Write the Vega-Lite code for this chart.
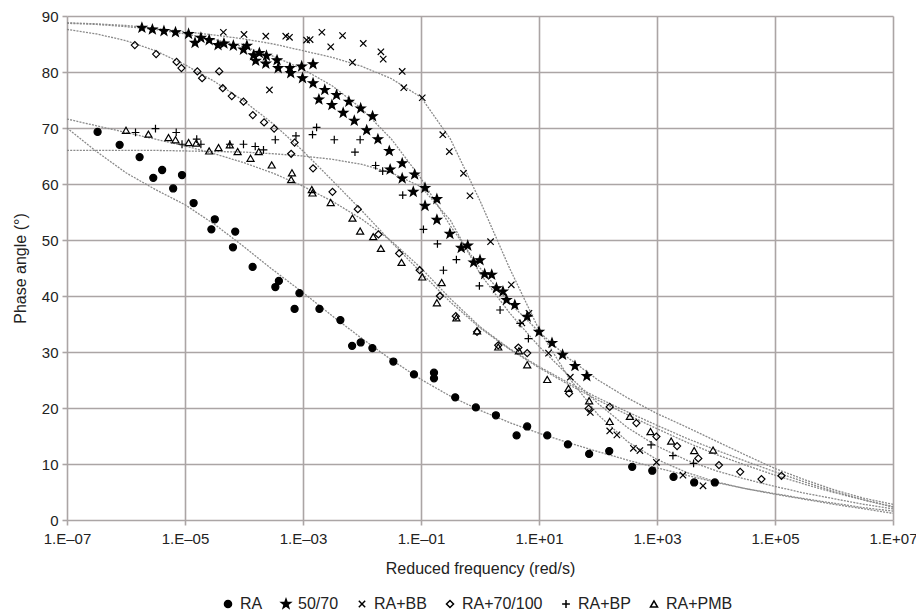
{
  "$schema": "https://vega.github.io/schema/vega-lite/v6.json",
  "width": 826,
  "height": 504,
  "autosize": {"type": "none"},
  "padding": {"left": 67, "top": 16, "right": 23, "bottom": 95},
  "background": "white",
  "config": {
    "view": {"stroke": null},
    "font": "Liberation Sans",
    "axis": {
      "grid": true,
      "gridColor": "#aba5a5",
      "gridWidth": 1.6,
      "domain": false,
      "tickColor": "#aba5a5",
      "tickSize": 5,
      "tickWidth": 1.6,
      "labelFontSize": 15,
      "labelColor": "#222222",
      "titleFontSize": 16,
      "titleFontWeight": "normal",
      "titleColor": "#222222",
      "labelFlush": false,
      "labelOverlap": false
    },
    "legend": {
      "title": null,
      "orient": "none",
      "legendX": 153,
      "legendY": 580,
      "direction": "horizontal",
      "labelFontSize": 16,
      "labelColor": "#222222",
      "labelFont": "Liberation Sans",
      "symbolSize": 50,
      "columnPadding": 15,
      "labelOffset": 4
    }
  },
  "datasets": {
    "points": [
      {"series": "RA", "freq": 3.3e-7, "phase": 69.3},
      {"series": "RA", "freq": 7.8e-7, "phase": 67.0},
      {"series": "RA", "freq": 1.7e-6, "phase": 64.8},
      {"series": "RA", "freq": 2.9e-6, "phase": 61.1},
      {"series": "RA", "freq": 4.1e-6, "phase": 62.5},
      {"series": "RA", "freq": 6.3e-6, "phase": 59.2},
      {"series": "RA", "freq": 8.9e-6, "phase": 61.6},
      {"series": "RA", "freq": 1.4e-5, "phase": 56.6},
      {"series": "RA", "freq": 3.2e-5, "phase": 53.7},
      {"series": "RA", "freq": 2.8e-5, "phase": 51.9},
      {"series": "RA", "freq": 7.1e-5, "phase": 51.5},
      {"series": "RA", "freq": 6.5e-5, "phase": 48.7},
      {"series": "RA", "freq": 1.4e-4, "phase": 45.2},
      {"series": "RA", "freq": 3.9e-4, "phase": 42.7},
      {"series": "RA", "freq": 3.4e-4, "phase": 41.6},
      {"series": "RA", "freq": 8.7e-4, "phase": 40.5},
      {"series": "RA", "freq": 7.2e-4, "phase": 37.7},
      {"series": "RA", "freq": 1.9e-3, "phase": 37.7},
      {"series": "RA", "freq": 4.3e-3, "phase": 35.7},
      {"series": "RA", "freq": 6.8e-3, "phase": 31.1},
      {"series": "RA", "freq": 9.5e-3, "phase": 31.7},
      {"series": "RA", "freq": 1.5e-2, "phase": 30.7},
      {"series": "RA", "freq": 3.4e-2, "phase": 28.3},
      {"series": "RA", "freq": 7.6e-2, "phase": 26.0},
      {"series": "RA", "freq": 0.166, "phase": 26.3},
      {"series": "RA", "freq": 0.166, "phase": 25.3},
      {"series": "RA", "freq": 0.38, "phase": 21.9},
      {"series": "RA", "freq": 0.85, "phase": 20.1},
      {"series": "RA", "freq": 1.86, "phase": 18.7},
      {"series": "RA", "freq": 4.17, "phase": 15.1},
      {"series": "RA", "freq": 6.3, "phase": 16.7},
      {"series": "RA", "freq": 13.8, "phase": 15.1},
      {"series": "RA", "freq": 30.9, "phase": 13.5},
      {"series": "RA", "freq": 70.8, "phase": 11.8},
      {"series": "RA", "freq": 155, "phase": 12.3},
      {"series": "RA", "freq": 380, "phase": 9.5},
      {"series": "RA", "freq": 832, "phase": 8.8},
      {"series": "RA", "freq": 1905, "phase": 7.7},
      {"series": "RA", "freq": 4266, "phase": 6.7},
      {"series": "RA", "freq": 9550, "phase": 6.7},

      {"series": "50/70", "freq": 1.86e-6, "phase": 87.9},
      {"series": "50/70", "freq": 2.8e-6, "phase": 87.6},
      {"series": "50/70", "freq": 4.4e-6, "phase": 87.3},
      {"series": "50/70", "freq": 6.9e-6, "phase": 87.1},
      {"series": "50/70", "freq": 1.15e-5, "phase": 86.8},
      {"series": "50/70", "freq": 1.48e-5, "phase": 85.2},
      {"series": "50/70", "freq": 1.86e-5, "phase": 86.1},
      {"series": "50/70", "freq": 2.57e-5, "phase": 85.7},
      {"series": "50/70", "freq": 3.63e-5, "phase": 84.8},
      {"series": "50/70", "freq": 4.57e-5, "phase": 85.1},
      {"series": "50/70", "freq": 6.6e-5, "phase": 84.7},
      {"series": "50/70", "freq": 9.8e-5, "phase": 84.0},
      {"series": "50/70", "freq": 1.12e-4, "phase": 84.7},
      {"series": "50/70", "freq": 1.45e-4, "phase": 83.0},
      {"series": "50/70", "freq": 1.58e-4, "phase": 82.0},
      {"series": "50/70", "freq": 1.82e-4, "phase": 83.4},
      {"series": "50/70", "freq": 2.34e-4, "phase": 81.5},
      {"series": "50/70", "freq": 2.4e-4, "phase": 82.9},
      {"series": "50/70", "freq": 3.63e-4, "phase": 82.1},
      {"series": "50/70", "freq": 3.8e-4, "phase": 80.7},
      {"series": "50/70", "freq": 6.0e-4, "phase": 80.7},
      {"series": "50/70", "freq": 6.2e-4, "phase": 79.8},
      {"series": "50/70", "freq": 9.5e-4, "phase": 81.0},
      {"series": "50/70", "freq": 9.8e-4, "phase": 78.9},
      {"series": "50/70", "freq": 1.48e-3, "phase": 81.4},
      {"series": "50/70", "freq": 1.48e-3, "phase": 78.0},
      {"series": "50/70", "freq": 1.86e-3, "phase": 75.1},
      {"series": "50/70", "freq": 2.34e-3, "phase": 76.8},
      {"series": "50/70", "freq": 3.09e-3, "phase": 74.1},
      {"series": "50/70", "freq": 3.7e-3, "phase": 75.9},
      {"series": "50/70", "freq": 4.8e-3, "phase": 72.7},
      {"series": "50/70", "freq": 6.0e-3, "phase": 74.7},
      {"series": "50/70", "freq": 7.4e-3, "phase": 71.3},
      {"series": "50/70", "freq": 9.5e-3, "phase": 73.5},
      {"series": "50/70", "freq": 1.2e-2, "phase": 69.6},
      {"series": "50/70", "freq": 1.51e-2, "phase": 72.1},
      {"series": "50/70", "freq": 1.86e-2, "phase": 68.0},
      {"series": "50/70", "freq": 2.9e-2, "phase": 65.9},
      {"series": "50/70", "freq": 4.8e-2, "phase": 63.7},
      {"series": "50/70", "freq": 3.0e-2, "phase": 62.6},
      {"series": "50/70", "freq": 4.8e-2, "phase": 61.0},
      {"series": "50/70", "freq": 7.8e-2, "phase": 61.7},
      {"series": "50/70", "freq": 7.4e-2, "phase": 58.6},
      {"series": "50/70", "freq": 0.117, "phase": 59.3},
      {"series": "50/70", "freq": 0.117, "phase": 56.1},
      {"series": "50/70", "freq": 0.186, "phase": 57.3},
      {"series": "50/70", "freq": 0.186, "phase": 53.6},
      {"series": "50/70", "freq": 0.309, "phase": 51.1},
      {"series": "50/70", "freq": 0.48, "phase": 48.6},
      {"series": "50/70", "freq": 0.62, "phase": 49.0},
      {"series": "50/70", "freq": 0.78, "phase": 46.0},
      {"series": "50/70", "freq": 1.0, "phase": 46.4},
      {"series": "50/70", "freq": 1.2, "phase": 43.9},
      {"series": "50/70", "freq": 1.58, "phase": 43.8},
      {"series": "50/70", "freq": 1.9, "phase": 41.4},
      {"series": "50/70", "freq": 2.45, "phase": 40.8},
      {"series": "50/70", "freq": 2.82, "phase": 39.3},
      {"series": "50/70", "freq": 3.89, "phase": 38.4},
      {"series": "50/70", "freq": 6.3, "phase": 36.3},
      {"series": "50/70", "freq": 10, "phase": 33.6},
      {"series": "50/70", "freq": 16.6, "phase": 31.6},
      {"series": "50/70", "freq": 25.1, "phase": 29.5},
      {"series": "50/70", "freq": 40.7, "phase": 27.5},
      {"series": "50/70", "freq": 64.6, "phase": 25.7},

      {"series": "RA+BB", "freq": 4.47e-5, "phase": 87.1},
      {"series": "RA+BB", "freq": 1.0e-4, "phase": 86.7},
      {"series": "RA+BB", "freq": 2.34e-4, "phase": 86.4},
      {"series": "RA+BB", "freq": 5.1e-4, "phase": 86.4},
      {"series": "RA+BB", "freq": 5.9e-4, "phase": 86.2},
      {"series": "RA+BB", "freq": 2.7e-4, "phase": 76.8},
      {"series": "RA+BB", "freq": 1.15e-3, "phase": 85.7},
      {"series": "RA+BB", "freq": 1.32e-3, "phase": 85.8},
      {"series": "RA+BB", "freq": 2.09e-3, "phase": 87.1},
      {"series": "RA+BB", "freq": 2.95e-3, "phase": 84.5},
      {"series": "RA+BB", "freq": 4.68e-3, "phase": 86.5},
      {"series": "RA+BB", "freq": 6.9e-3, "phase": 81.7},
      {"series": "RA+BB", "freq": 1.05e-2, "phase": 85.1},
      {"series": "RA+BB", "freq": 2.09e-2, "phase": 83.6},
      {"series": "RA+BB", "freq": 2.29e-2, "phase": 82.3},
      {"series": "RA+BB", "freq": 4.8e-2, "phase": 80.1},
      {"series": "RA+BB", "freq": 5.1e-2, "phase": 77.2},
      {"series": "RA+BB", "freq": 0.105, "phase": 75.4},
      {"series": "RA+BB", "freq": 0.234, "phase": 68.8},
      {"series": "RA+BB", "freq": 0.302, "phase": 65.8},
      {"series": "RA+BB", "freq": 0.525, "phase": 61.9},
      {"series": "RA+BB", "freq": 0.676, "phase": 57.9},
      {"series": "RA+BB", "freq": 1.51, "phase": 49.7},
      {"series": "RA+BB", "freq": 3.39, "phase": 42.0},
      {"series": "RA+BB", "freq": 6.76, "phase": 36.9},
      {"series": "RA+BB", "freq": 5.13, "phase": 35.2},
      {"series": "RA+BB", "freq": 14.5, "phase": 29.8},
      {"series": "RA+BB", "freq": 33.9, "phase": 25.5},
      {"series": "RA+BB", "freq": 74.1, "phase": 19.2},
      {"series": "RA+BB", "freq": 158, "phase": 15.9},
      {"series": "RA+BB", "freq": 209, "phase": 15.2},
      {"series": "RA+BB", "freq": 398, "phase": 12.8},
      {"series": "RA+BB", "freq": 513, "phase": 12.4},
      {"series": "RA+BB", "freq": 977, "phase": 10.3},
      {"series": "RA+BB", "freq": 2754, "phase": 8.0},
      {"series": "RA+BB", "freq": 6026, "phase": 6.1},

      {"series": "RA+70/100", "freq": 1.41e-6, "phase": 84.8},
      {"series": "RA+70/100", "freq": 3.24e-6, "phase": 83.2},
      {"series": "RA+70/100", "freq": 7.2e-6, "phase": 81.8},
      {"series": "RA+70/100", "freq": 8.7e-6, "phase": 80.7},
      {"series": "RA+70/100", "freq": 1.62e-5, "phase": 80.1},
      {"series": "RA+70/100", "freq": 1.95e-5, "phase": 78.9},
      {"series": "RA+70/100", "freq": 3.8e-5, "phase": 80.1},
      {"series": "RA+70/100", "freq": 4.37e-5, "phase": 77.1},
      {"series": "RA+70/100", "freq": 6.2e-5, "phase": 75.7},
      {"series": "RA+70/100", "freq": 9.8e-5, "phase": 74.7},
      {"series": "RA+70/100", "freq": 1.41e-4, "phase": 72.3},
      {"series": "RA+70/100", "freq": 2.19e-4, "phase": 71.0},
      {"series": "RA+70/100", "freq": 3.24e-4, "phase": 69.9},
      {"series": "RA+70/100", "freq": 7.2e-4, "phase": 67.4},
      {"series": "RA+70/100", "freq": 6.3e-4, "phase": 65.4},
      {"series": "RA+70/100", "freq": 1.48e-3, "phase": 62.8},
      {"series": "RA+70/100", "freq": 3.16e-3, "phase": 58.6},
      {"series": "RA+70/100", "freq": 8.5e-3, "phase": 55.5},
      {"series": "RA+70/100", "freq": 1.9e-2, "phase": 51.0},
      {"series": "RA+70/100", "freq": 4.27e-2, "phase": 47.6},
      {"series": "RA+70/100", "freq": 9.5e-2, "phase": 44.6},
      {"series": "RA+70/100", "freq": 0.209, "phase": 40.0},
      {"series": "RA+70/100", "freq": 0.389, "phase": 36.4},
      {"series": "RA+70/100", "freq": 0.891, "phase": 33.6},
      {"series": "RA+70/100", "freq": 2.04, "phase": 31.2},
      {"series": "RA+70/100", "freq": 4.47, "phase": 30.8},
      {"series": "RA+70/100", "freq": 6.31, "phase": 29.8},
      {"series": "RA+70/100", "freq": 32.4, "phase": 22.6},
      {"series": "RA+70/100", "freq": 69.2, "phase": 19.9},
      {"series": "RA+70/100", "freq": 158, "phase": 20.2},
      {"series": "RA+70/100", "freq": 447, "phase": 17.3},
      {"series": "RA+70/100", "freq": 977, "phase": 14.9},
      {"series": "RA+70/100", "freq": 2188, "phase": 13.2},
      {"series": "RA+70/100", "freq": 5012, "phase": 11.0},
      {"series": "RA+70/100", "freq": 11220, "phase": 9.8},
      {"series": "RA+70/100", "freq": 25700, "phase": 8.6},
      {"series": "RA+70/100", "freq": 58900, "phase": 7.3},
      {"series": "RA+70/100", "freq": 128800, "phase": 7.9},

      {"series": "RA+BP", "freq": 1.45e-6, "phase": 69.2},
      {"series": "RA+BP", "freq": 3.16e-6, "phase": 69.9},
      {"series": "RA+BP", "freq": 7.1e-6, "phase": 69.2},
      {"series": "RA+BP", "freq": 8.9e-6, "phase": 67.1},
      {"series": "RA+BP", "freq": 1.58e-5, "phase": 68.0},
      {"series": "RA+BP", "freq": 1.86e-5, "phase": 67.1},
      {"series": "RA+BP", "freq": 5.75e-5, "phase": 67.1},
      {"series": "RA+BP", "freq": 9.8e-5, "phase": 67.1},
      {"series": "RA+BP", "freq": 1.55e-4, "phase": 66.7},
      {"series": "RA+BP", "freq": 2.14e-4, "phase": 66.1},
      {"series": "RA+BP", "freq": 3.39e-4, "phase": 67.9},
      {"series": "RA+BP", "freq": 7.6e-4, "phase": 68.6},
      {"series": "RA+BP", "freq": 1.7e-3, "phase": 70.1},
      {"series": "RA+BP", "freq": 1.45e-3, "phase": 68.8},
      {"series": "RA+BP", "freq": 3.39e-3, "phase": 67.9},
      {"series": "RA+BP", "freq": 9.3e-3, "phase": 67.9},
      {"series": "RA+BP", "freq": 7.6e-3, "phase": 65.7},
      {"series": "RA+BP", "freq": 1.7e-2, "phase": 63.3},
      {"series": "RA+BP", "freq": 2.24e-2, "phase": 62.3},
      {"series": "RA+BP", "freq": 4.9e-2, "phase": 58.0},
      {"series": "RA+BP", "freq": 0.11, "phase": 51.9},
      {"series": "RA+BP", "freq": 0.19, "phase": 49.3},
      {"series": "RA+BP", "freq": 0.24, "phase": 44.6},
      {"series": "RA+BP", "freq": 0.398, "phase": 46.5},
      {"series": "RA+BP", "freq": 0.977, "phase": 41.8},
      {"series": "RA+BP", "freq": 2.19, "phase": 37.5},
      {"series": "RA+BP", "freq": 4.79, "phase": 35.1},
      {"series": "RA+BP", "freq": 6.61, "phase": 32.4},
      {"series": "RA+BP", "freq": 794, "phase": 13.4},
      {"series": "RA+BP", "freq": 1862, "phase": 11.5},
      {"series": "RA+BP", "freq": 4169, "phase": 10.1},

      {"series": "RA+PMB", "freq": 1.0e-6, "phase": 69.6},
      {"series": "RA+PMB", "freq": 2.4e-6, "phase": 68.9},
      {"series": "RA+PMB", "freq": 5.25e-6, "phase": 68.3},
      {"series": "RA+PMB", "freq": 6.9e-6, "phase": 67.9},
      {"series": "RA+PMB", "freq": 1.15e-5, "phase": 67.4},
      {"series": "RA+PMB", "freq": 1.55e-5, "phase": 67.3},
      {"series": "RA+PMB", "freq": 2.57e-5, "phase": 65.9},
      {"series": "RA+PMB", "freq": 3.7e-5, "phase": 66.5},
      {"series": "RA+PMB", "freq": 5.75e-5, "phase": 67.0},
      {"series": "RA+PMB", "freq": 7.8e-5, "phase": 65.8},
      {"series": "RA+PMB", "freq": 1.29e-4, "phase": 64.6},
      {"series": "RA+PMB", "freq": 1.78e-4, "phase": 65.8},
      {"series": "RA+PMB", "freq": 2.95e-4, "phase": 63.4},
      {"series": "RA+PMB", "freq": 6.5e-4, "phase": 62.0},
      {"series": "RA+PMB", "freq": 6.3e-4, "phase": 60.8},
      {"series": "RA+PMB", "freq": 1.41e-3, "phase": 59.0},
      {"series": "RA+PMB", "freq": 1.45e-3, "phase": 58.4},
      {"series": "RA+PMB", "freq": 2.95e-3, "phase": 56.7},
      {"series": "RA+PMB", "freq": 6.9e-3, "phase": 53.9},
      {"series": "RA+PMB", "freq": 9.3e-3, "phase": 51.6},
      {"series": "RA+PMB", "freq": 1.55e-2, "phase": 50.6},
      {"series": "RA+PMB", "freq": 2.09e-2, "phase": 48.5},
      {"series": "RA+PMB", "freq": 4.68e-2, "phase": 46.0},
      {"series": "RA+PMB", "freq": 0.105, "phase": 43.4},
      {"series": "RA+PMB", "freq": 0.224, "phase": 42.4},
      {"series": "RA+PMB", "freq": 0.186, "phase": 38.8},
      {"series": "RA+PMB", "freq": 0.398, "phase": 36.1},
      {"series": "RA+PMB", "freq": 0.891, "phase": 33.8},
      {"series": "RA+PMB", "freq": 2.04, "phase": 30.9},
      {"series": "RA+PMB", "freq": 4.57, "phase": 30.2},
      {"series": "RA+PMB", "freq": 6.31, "phase": 27.7},
      {"series": "RA+PMB", "freq": 13.8, "phase": 25.1},
      {"series": "RA+PMB", "freq": 31.6, "phase": 23.5},
      {"series": "RA+PMB", "freq": 70.8, "phase": 21.3},
      {"series": "RA+PMB", "freq": 158, "phase": 17.6},
      {"series": "RA+PMB", "freq": 347, "phase": 18.5},
      {"series": "RA+PMB", "freq": 776, "phase": 15.8},
      {"series": "RA+PMB", "freq": 1738, "phase": 14.1},
      {"series": "RA+PMB", "freq": 4266, "phase": 12.4},
      {"series": "RA+PMB", "freq": 8913, "phase": 12.5}
    ],
    "fits": [
      {"curve": "RA", "freq": 1e-7, "phase": 70.0}, {"curve": "RA", "freq": 3.16e-7, "phase": 65.8}, {"curve": "RA", "freq": 1e-6, "phase": 62.0}, {"curve": "RA", "freq": 3.16e-6, "phase": 59.0}, {"curve": "RA", "freq": 1e-5, "phase": 56.3}, {"curve": "RA", "freq": 3.16e-5, "phase": 52.8}, {"curve": "RA", "freq": 1e-4, "phase": 48.8}, {"curve": "RA", "freq": 3.16e-4, "phase": 44.6}, {"curve": "RA", "freq": 1e-3, "phase": 40.6}, {"curve": "RA", "freq": 3.16e-3, "phase": 36.4}, {"curve": "RA", "freq": 0.01, "phase": 32.4}, {"curve": "RA", "freq": 0.0316, "phase": 28.6}, {"curve": "RA", "freq": 0.1, "phase": 25.1}, {"curve": "RA", "freq": 0.316, "phase": 22.1}, {"curve": "RA", "freq": 1, "phase": 19.6}, {"curve": "RA", "freq": 3.16, "phase": 17.4}, {"curve": "RA", "freq": 10, "phase": 15.5}, {"curve": "RA", "freq": 31.6, "phase": 13.8}, {"curve": "RA", "freq": 100, "phase": 12.2}, {"curve": "RA", "freq": 316, "phase": 10.7}, {"curve": "RA", "freq": 1000, "phase": 9.3}, {"curve": "RA", "freq": 3162, "phase": 8.0}, {"curve": "RA", "freq": 10000, "phase": 6.7}, {"curve": "RA", "freq": 31623, "phase": 5.6}, {"curve": "RA", "freq": 100000, "phase": 4.6}, {"curve": "RA", "freq": 316228, "phase": 3.7}, {"curve": "RA", "freq": 1000000, "phase": 2.8}, {"curve": "RA", "freq": 3162278, "phase": 2.0}, {"curve": "RA", "freq": 10000000, "phase": 1.2},
      {"curve": "50/70", "freq": 1e-7, "phase": 88.7}, {"curve": "50/70", "freq": 3.16e-7, "phase": 88.5}, {"curve": "50/70", "freq": 1e-6, "phase": 88.1}, {"curve": "50/70", "freq": 3.16e-6, "phase": 87.6}, {"curve": "50/70", "freq": 1e-5, "phase": 86.8}, {"curve": "50/70", "freq": 3.16e-5, "phase": 85.8}, {"curve": "50/70", "freq": 1e-4, "phase": 84.5}, {"curve": "50/70", "freq": 3.16e-4, "phase": 82.8}, {"curve": "50/70", "freq": 1e-3, "phase": 80.5}, {"curve": "50/70", "freq": 3.16e-3, "phase": 77.5}, {"curve": "50/70", "freq": 0.01, "phase": 73.4}, {"curve": "50/70", "freq": 0.0316, "phase": 68.0}, {"curve": "50/70", "freq": 0.1, "phase": 61.0}, {"curve": "50/70", "freq": 0.316, "phase": 52.5}, {"curve": "50/70", "freq": 1, "phase": 45.0}, {"curve": "50/70", "freq": 3.16, "phase": 38.8}, {"curve": "50/70", "freq": 10, "phase": 33.6}, {"curve": "50/70", "freq": 31.6, "phase": 28.9}, {"curve": "50/70", "freq": 100, "phase": 25.0}, {"curve": "50/70", "freq": 316, "phase": 21.8}, {"curve": "50/70", "freq": 1000, "phase": 19.0}, {"curve": "50/70", "freq": 3162, "phase": 16.6}, {"curve": "50/70", "freq": 10000, "phase": 14.1}, {"curve": "50/70", "freq": 31623, "phase": 11.6}, {"curve": "50/70", "freq": 100000, "phase": 9.2}, {"curve": "50/70", "freq": 316228, "phase": 7.2}, {"curve": "50/70", "freq": 1000000, "phase": 5.4}, {"curve": "50/70", "freq": 3162278, "phase": 3.9}, {"curve": "50/70", "freq": 10000000, "phase": 2.8},
      {"curve": "RA+BB", "freq": 1e-7, "phase": 88.8}, {"curve": "RA+BB", "freq": 3.16e-7, "phase": 88.6}, {"curve": "RA+BB", "freq": 1e-6, "phase": 88.3}, {"curve": "RA+BB", "freq": 3.16e-6, "phase": 87.8}, {"curve": "RA+BB", "freq": 1e-5, "phase": 87.2}, {"curve": "RA+BB", "freq": 3.16e-5, "phase": 86.6}, {"curve": "RA+BB", "freq": 1e-4, "phase": 85.9}, {"curve": "RA+BB", "freq": 3.16e-4, "phase": 85.0}, {"curve": "RA+BB", "freq": 1e-3, "phase": 83.8}, {"curve": "RA+BB", "freq": 3.16e-3, "phase": 82.6}, {"curve": "RA+BB", "freq": 0.01, "phase": 81.0}, {"curve": "RA+BB", "freq": 0.0316, "phase": 78.8}, {"curve": "RA+BB", "freq": 0.1, "phase": 75.5}, {"curve": "RA+BB", "freq": 0.316, "phase": 68.0}, {"curve": "RA+BB", "freq": 1, "phase": 57.0}, {"curve": "RA+BB", "freq": 3.16, "phase": 45.0}, {"curve": "RA+BB", "freq": 10, "phase": 34.0}, {"curve": "RA+BB", "freq": 31.6, "phase": 25.5}, {"curve": "RA+BB", "freq": 100, "phase": 18.8}, {"curve": "RA+BB", "freq": 316, "phase": 14.0}, {"curve": "RA+BB", "freq": 1000, "phase": 10.8}, {"curve": "RA+BB", "freq": 3162, "phase": 8.5}, {"curve": "RA+BB", "freq": 10000, "phase": 6.8}, {"curve": "RA+BB", "freq": 31623, "phase": 5.6}, {"curve": "RA+BB", "freq": 100000, "phase": 4.7}, {"curve": "RA+BB", "freq": 316228, "phase": 3.8}, {"curve": "RA+BB", "freq": 1000000, "phase": 3.0}, {"curve": "RA+BB", "freq": 3162278, "phase": 2.2}, {"curve": "RA+BB", "freq": 10000000, "phase": 1.6},
      {"curve": "RA+70/100", "freq": 1e-7, "phase": 87.6}, {"curve": "RA+70/100", "freq": 3.16e-7, "phase": 86.8}, {"curve": "RA+70/100", "freq": 1e-6, "phase": 85.6}, {"curve": "RA+70/100", "freq": 3.16e-6, "phase": 83.8}, {"curve": "RA+70/100", "freq": 1e-5, "phase": 81.3}, {"curve": "RA+70/100", "freq": 3.16e-5, "phase": 78.3}, {"curve": "RA+70/100", "freq": 1e-4, "phase": 74.8}, {"curve": "RA+70/100", "freq": 3.16e-4, "phase": 70.7}, {"curve": "RA+70/100", "freq": 1e-3, "phase": 65.9}, {"curve": "RA+70/100", "freq": 3.16e-3, "phase": 60.6}, {"curve": "RA+70/100", "freq": 0.01, "phase": 55.2}, {"curve": "RA+70/100", "freq": 0.0316, "phase": 49.6}, {"curve": "RA+70/100", "freq": 0.1, "phase": 44.2}, {"curve": "RA+70/100", "freq": 0.316, "phase": 38.9}, {"curve": "RA+70/100", "freq": 1, "phase": 34.3}, {"curve": "RA+70/100", "freq": 3.16, "phase": 30.5}, {"curve": "RA+70/100", "freq": 10, "phase": 27.2}, {"curve": "RA+70/100", "freq": 31.6, "phase": 24.2}, {"curve": "RA+70/100", "freq": 100, "phase": 21.4}, {"curve": "RA+70/100", "freq": 316, "phase": 18.8}, {"curve": "RA+70/100", "freq": 1000, "phase": 16.3}, {"curve": "RA+70/100", "freq": 3162, "phase": 13.9}, {"curve": "RA+70/100", "freq": 10000, "phase": 11.7}, {"curve": "RA+70/100", "freq": 31623, "phase": 9.8}, {"curve": "RA+70/100", "freq": 100000, "phase": 8.0}, {"curve": "RA+70/100", "freq": 316228, "phase": 6.4}, {"curve": "RA+70/100", "freq": 1000000, "phase": 4.9}, {"curve": "RA+70/100", "freq": 3162278, "phase": 3.6}, {"curve": "RA+70/100", "freq": 10000000, "phase": 2.4},
      {"curve": "RA+BP", "freq": 1e-7, "phase": 66.0}, {"curve": "RA+BP", "freq": 3.16e-7, "phase": 66.0}, {"curve": "RA+BP", "freq": 1e-6, "phase": 66.0}, {"curve": "RA+BP", "freq": 3.16e-6, "phase": 66.0}, {"curve": "RA+BP", "freq": 1e-5, "phase": 65.9}, {"curve": "RA+BP", "freq": 3.16e-5, "phase": 65.8}, {"curve": "RA+BP", "freq": 1e-4, "phase": 65.7}, {"curve": "RA+BP", "freq": 3.16e-4, "phase": 65.4}, {"curve": "RA+BP", "freq": 1e-3, "phase": 65.0}, {"curve": "RA+BP", "freq": 3.16e-3, "phase": 64.4}, {"curve": "RA+BP", "freq": 0.01, "phase": 63.5}, {"curve": "RA+BP", "freq": 0.0316, "phase": 62.0}, {"curve": "RA+BP", "freq": 0.1, "phase": 59.5}, {"curve": "RA+BP", "freq": 0.316, "phase": 53.5}, {"curve": "RA+BP", "freq": 1, "phase": 44.0}, {"curve": "RA+BP", "freq": 3.16, "phase": 37.0}, {"curve": "RA+BP", "freq": 10, "phase": 31.0}, {"curve": "RA+BP", "freq": 31.6, "phase": 25.8}, {"curve": "RA+BP", "freq": 100, "phase": 20.8}, {"curve": "RA+BP", "freq": 316, "phase": 16.5}, {"curve": "RA+BP", "freq": 1000, "phase": 13.2}, {"curve": "RA+BP", "freq": 3162, "phase": 10.7}, {"curve": "RA+BP", "freq": 10000, "phase": 8.8}, {"curve": "RA+BP", "freq": 31623, "phase": 7.3}, {"curve": "RA+BP", "freq": 100000, "phase": 6.0}, {"curve": "RA+BP", "freq": 316228, "phase": 4.8}, {"curve": "RA+BP", "freq": 1000000, "phase": 3.8}, {"curve": "RA+BP", "freq": 3162278, "phase": 2.8}, {"curve": "RA+BP", "freq": 10000000, "phase": 2.0},
      {"curve": "RA+PMB", "freq": 1e-7, "phase": 71.6}, {"curve": "RA+PMB", "freq": 3.16e-7, "phase": 70.4}, {"curve": "RA+PMB", "freq": 1e-6, "phase": 69.2}, {"curve": "RA+PMB", "freq": 3.16e-6, "phase": 68.0}, {"curve": "RA+PMB", "freq": 1e-5, "phase": 66.8}, {"curve": "RA+PMB", "freq": 3.16e-5, "phase": 65.4}, {"curve": "RA+PMB", "freq": 1e-4, "phase": 63.8}, {"curve": "RA+PMB", "freq": 3.16e-4, "phase": 61.9}, {"curve": "RA+PMB", "freq": 1e-3, "phase": 59.6}, {"curve": "RA+PMB", "freq": 3.16e-3, "phase": 56.9}, {"curve": "RA+PMB", "freq": 0.01, "phase": 53.7}, {"curve": "RA+PMB", "freq": 0.0316, "phase": 49.8}, {"curve": "RA+PMB", "freq": 0.1, "phase": 45.0}, {"curve": "RA+PMB", "freq": 0.316, "phase": 39.5}, {"curve": "RA+PMB", "freq": 1, "phase": 34.5}, {"curve": "RA+PMB", "freq": 3.16, "phase": 30.6}, {"curve": "RA+PMB", "freq": 10, "phase": 27.4}, {"curve": "RA+PMB", "freq": 31.6, "phase": 24.5}, {"curve": "RA+PMB", "freq": 100, "phase": 21.8}, {"curve": "RA+PMB", "freq": 316, "phase": 19.3}, {"curve": "RA+PMB", "freq": 1000, "phase": 16.9}, {"curve": "RA+PMB", "freq": 3162, "phase": 14.6}, {"curve": "RA+PMB", "freq": 10000, "phase": 12.5}, {"curve": "RA+PMB", "freq": 31623, "phase": 10.5}, {"curve": "RA+PMB", "freq": 100000, "phase": 8.6}, {"curve": "RA+PMB", "freq": 316228, "phase": 6.8}, {"curve": "RA+PMB", "freq": 1000000, "phase": 5.1}, {"curve": "RA+PMB", "freq": 3162278, "phase": 3.6}, {"curve": "RA+PMB", "freq": 10000000, "phase": 2.3}
    ]
  },
  "layer": [
    {
      "data": {"name": "fits"},
      "mark": {"type": "line", "stroke": "#8a8a8a", "strokeWidth": 1.3, "strokeDash": [2, 1.2]},
      "encoding": {
        "x": {
          "field": "freq",
          "type": "quantitative",
          "scale": {"type": "log", "domain": [1e-7, 10000000]},
          "axis": {
            "values": [1e-7, 1e-5, 0.001, 0.1, 10, 1000, 100000, 10000000],
            "labelExpr": "'1.E' + (datum.value < 1 ? '–' : '+') + '0' + abs(round(log(datum.value) / LN10))",
            "labelPadding": 6,
            "title": "Reduced frequency (red/s)",
            "titlePadding": 14
          }
        },
        "y": {
          "field": "phase",
          "type": "quantitative",
          "scale": {"domain": [0, 90], "nice": false},
          "axis": {
            "values": [0, 10, 20, 30, 40, 50, 60, 70, 80, 90],
            "labelPadding": 4,
            "title": "Phase angle (°)",
            "titlePadding": 13
          }
        },
        "detail": {"field": "curve"}
      }
    },
    {
      "data": {"name": "points"},
      "mark": {"type": "point", "stroke": "black", "strokeWidth": 1.2, "opacity": 1, "size": 50},
      "encoding": {
        "x": {"field": "freq", "type": "quantitative"},
        "y": {"field": "phase", "type": "quantitative"},
        "shape": {
          "field": "series",
          "type": "nominal",
          "scale": {
            "domain": ["RA", "50/70", "RA+BB", "RA+70/100", "RA+BP", "RA+PMB"],
            "range": [
              "circle",
              "M0,-1.35L0.323,-0.445L1.284,-0.417L0.523,0.17L0.794,1.092L0,0.55L-0.794,1.092L-0.523,0.17L-1.284,-0.417L-0.323,-0.445Z",
              "M-0.9,-0.9L0.9,0.9M-0.9,0.9L0.9,-0.9",
              "diamond",
              "M-1.1,0L1.1,0M0,-1.1L0,1.1",
              "triangle-up"
            ]
          },
          "legend": {
            "encode": {
              "symbols": {
                "update": {
                  "stroke": {"value": "black"},
                  "strokeWidth": {"value": 1.2}
                }
              }
            }
          }
        },
        "fill": {
          "field": "series",
          "type": "nominal",
          "scale": {
            "domain": ["RA", "50/70", "RA+BB", "RA+70/100", "RA+BP", "RA+PMB"],
            "range": ["black", "black", "transparent", "transparent", "transparent", "transparent"]
          },
          "legend": {
            "encode": {
              "symbols": {
                "update": {
                  "stroke": {"value": "black"},
                  "strokeWidth": {"value": 1.2}
                }
              }
            }
          }
        }
      }
    }
  ]
}
